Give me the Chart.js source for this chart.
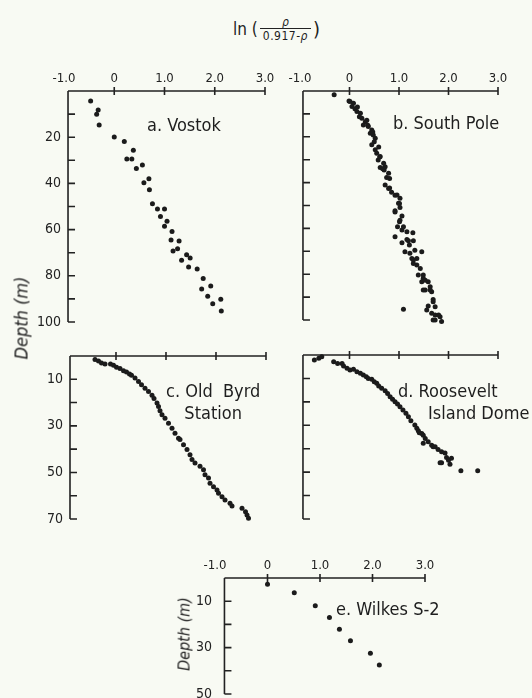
<!DOCTYPE html>
<html>
<head>
<meta charset="utf-8">
<script src="https://cdn.jsdelivr.net/npm/chart.js@4.4.1/dist/chart.umd.min.js"></script>
<style>
  body { margin: 0; background: #f8faf3; width: 532px; height: 698px; overflow: hidden; position: relative;
         font-family: "Liberation Sans Narrow", "DejaVu Sans Condensed", sans-serif; color: #1e1e1e; }
  canvas { position: absolute; }
  .lbl { position: absolute; font-size: 18px; line-height: 22px; white-space: nowrap; }
  .ylab { position: absolute; font-size: 18px; font-style: italic; white-space: nowrap;
          transform: translate(-50%, -50%) rotate(-90deg); }
  #ttl { position: absolute; left: 233px; top: 16px; display: flex; align-items: center; font-size: 17px; }
  .frac { display: inline-flex; flex-direction: column; align-items: center; margin: 0 2px; font-size: 12px; line-height: 12px; }
  .frac .den { border-top: 1.3px solid #222; padding: 1px 3px 0; letter-spacing: 0.5px; }
</style>
</head>
<body>
<div id="ttl"><span>ln (</span><span class="frac"><i>ρ</i><span class="den">0.917-<i>ρ</i></span></span><span style="font-size:20px">)</span></div>

<canvas id="cA"></canvas>
<canvas id="cB"></canvas>
<canvas id="cC"></canvas>
<canvas id="cD"></canvas>
<canvas id="cE"></canvas>

<div class="lbl" style="left:147px;top:114px">a. Vostok</div>
<div class="lbl" style="left:393px;top:112px">b. South Pole</div>
<div class="lbl" style="left:166px;top:380px;text-align:center">c. Old &nbsp;Byrd<br>Station</div>
<div class="lbl" style="left:398px;top:380px">d. Roosevelt</div>
<div class="lbl" style="left:428px;top:402px">Island Dome</div>
<div class="lbl" style="left:336px;top:598px">e. Wilkes S-2</div>
<div class="ylab" style="left:21px;top:318px">Depth (m)</div>
<div class="ylab" style="left:184px;top:634px;font-size:16px">Depth (m)</div>

<script>
const FONT = '"Liberation Sans Narrow", "DejaVu Sans Condensed", sans-serif';

// x axis: ln(rho / (0.917 - rho))
const xTickValues = [-1, 0, 1, 2, 3];

// depth tick labels per panel
const deepLabels = [20, 40, 60, 80, 100];
const shallowLabels = [10, 30, 50, 70];
const wilkesLabels = [10, 30, 50];

// a. Vostok
const vostokLn = [-0.47, -0.32, -0.35, -0.30, 0.00, 0.20, 0.38, 0.25, 0.35, 0.44, 0.56, 0.59, 0.69, 0.70, 0.76,
  0.86, 1.00, 0.92, 1.05, 1.00, 1.15, 1.13, 1.29, 1.26, 1.17, 1.44, 1.51, 1.34, 1.48, 1.65, 1.77, 1.74, 1.92,
  1.86, 1.96, 2.12, 2.13];
const vostokDepth = [4.3, 8.2, 10.1, 14.7, 19.9, 21.9, 25.7, 29.4, 29.4, 33.6, 32.0, 39.7, 38.0, 42.7, 48.8,
  51.1, 51.1, 54.3, 56.4, 58.6, 60.8, 64.5, 64.9, 68.3, 69.3, 70.9, 72.3, 73.3, 76.2, 77.1, 81.2, 85.7, 84.4,
  88.9, 92.1, 90.2, 95.2];

// b. South Pole
const poleLn = [-0.31, 0.01, 0.08, 0.05, 0.11, 0.15, 0.22, 0.20, 0.25, 0.32, 0.28, 0.38, 0.45, 0.42, 0.48,
  0.52, 0.45, 0.52, 0.55, 0.62, 0.58, 0.69, 0.62, 0.70, 0.79, 0.75, 0.72, 0.81, 0.85, 0.96, 1.02, 0.99, 1.02,
  0.92, 1.06, 1.01, 0.97, 1.06, 0.92, 1.28, 1.06, 1.16, 1.21, 1.12, 1.22, 1.32, 1.46, 1.29, 1.36, 1.43, 1.39,
  1.49, 1.46, 1.59, 1.63, 1.53, 1.66, 1.69, 1.59, 1.56, 1.09, 1.66, 1.73, 1.83, 1.73, 1.86,
  -0.01, 0.16, 0.35, 0.37, 0.47, 0.50, 0.59, 0.61, 0.72, 0.67, 0.81, 0.79, 0.92, 1.01, 0.92, 1.02, 1.09, 1.16,
  1.19, 1.29, 1.26, 1.36, 1.29, 1.49, 1.53, 1.49, 1.63, 1.69, 1.73, 1.80, 1.69];
const poleDepth = [1.6, 4.6, 5.4, 6.8, 7.8, 9.0, 9.7, 11.2, 11.9, 13.4, 14.8, 15.5, 17.0, 18.4, 19.2,
  20.6, 23.5, 25.7, 27.2, 28.6, 30.1, 31.5, 33.4, 34.5, 35.9, 37.8, 41.0, 42.4, 44.2, 45.4, 46.8, 49.0, 50.9,
  52.8, 54.6, 57.1, 59.3, 60.7, 63.7, 61.9, 66.3, 64.8, 67.3, 70.2, 70.9, 69.5, 70.2, 73.8, 76.0, 77.5, 80.4,
  81.8, 83.3, 83.3, 85.5, 86.9, 87.7, 91.0, 93.9, 95.6, 95.3, 97.1, 97.8, 98.6, 100.0, 100.7,
  4.4, 7.0, 12.8, 15.0, 17.9, 22.2, 24.4, 28.8, 33.1, 33.9, 38.2, 42.6, 45.5, 49.1, 52.3, 56.4, 59.3, 61.5,
  65.4, 65.4, 73.1, 73.1, 75.3, 80.4, 82.6, 86.9, 86.9, 92.0, 94.2, 97.8, 100.0];

// c. Old Byrd Station
const byrdLn = [-0.42, -0.35, -0.29, -0.22, -0.11, -0.05, 0.01, 0.08, 0.15, 0.21, 0.27, 0.31, 0.38, 0.45, 0.51,
  0.58, 0.65, 0.72, 0.76, 0.82, 0.85, 0.88, 0.92, 0.98, 1.05, 1.12, 1.18, 1.25, 1.28, 1.35, 1.42, 1.48, 1.52,
  1.58, 1.68, 1.75, 1.78, 1.85, 1.88, 1.95, 2.02, 2.05, 2.12, 2.18, 2.28, 2.32, 2.52, 2.59, 2.62, 2.65];
const byrdDepth = [1.5, 2.2, 3.0, 3.4, 3.4, 4.0, 4.8, 5.4, 6.3, 6.9, 7.7, 8.3, 9.5, 10.9, 12.3,
  13.8, 15.2, 16.9, 18.3, 20.2, 21.7, 23.5, 25.2, 26.7, 28.9, 31.0, 33.2, 35.3, 35.9, 38.1, 40.2, 42.4, 44.5,
  46.0, 47.4, 48.9, 51.0, 52.4, 54.6, 56.1, 57.5, 58.9, 60.4, 61.8, 63.2, 64.4, 65.4, 66.9, 68.3, 69.7];

// d. Roosevelt Island Dome
const rooseLn = [-0.71, -0.62, -0.56, -0.32, -0.24, -0.15, -0.12, -0.05, 0.01, 0.08, 0.15, 0.22, 0.28, 0.34,
  0.38, 0.45, 0.50, 0.55, 0.59, 0.65, 0.72, 0.77, 0.82, 0.87, 0.92, 0.97, 1.02, 1.08, 1.14, 1.19, 1.24, 1.32,
  1.36, 1.39, 1.46, 1.41, 1.49, 1.53, 1.49, 1.59, 1.66, 1.69, 1.73, 1.79, 1.86, 1.93, 1.96, 1.86, 2.03, 2.06,
  2.00, 1.83, 2.25, 2.59];
const rooseDepth = [2.1, 1.4, 0.7, 2.9, 3.6, 3.6, 4.7, 5.7, 6.4, 6.1, 7.1, 7.8, 8.5, 9.3,
  10.0, 10.4, 11.4, 12.1, 13.2, 14.2, 15.3, 16.4, 17.8, 18.9, 20.0, 20.9, 22.1, 23.5, 24.9, 26.4, 28.1, 29.9,
  31.3, 32.3, 33.5, 33.2, 34.2, 35.6, 37.7, 37.0, 38.5, 39.2, 39.2, 40.3, 41.3, 41.8, 43.7, 46.0, 46.6, 44.1,
  44.9, 46.0, 49.4, 49.4];

// e. Wilkes S-2
const wilkesLn = [0.00, 0.51, 0.91, 1.18, 1.37, 1.58, 1.96, 2.13];
const wilkesDepth = [2.7, 6.4, 12.0, 17.0, 22.1, 27.0, 32.4, 37.5];

const pts = (xs, ys) => xs.map((x, i) => ({ x: x, y: ys[i] }));

// axis lines drawn from the scales: top axis with crossing ticks, left axis with inward ticks
const axisMarks = {
  id: 'axisMarks',
  beforeDatasetsDraw(chart, args, opts) {
    const { ctx, chartArea: a, scales: { x, y } } = chart;
    const x0 = x.getPixelForValue(opts.xStart);
    const x3 = x.getPixelForValue(3);
    ctx.save();
    ctx.strokeStyle = '#222';
    ctx.lineWidth = 1.6;
    ctx.beginPath();
    ctx.moveTo(x0, a.top); ctx.lineTo(x3, a.top);
    ctx.moveTo(x0, a.top); ctx.lineTo(x0, a.bottom);
    xTickValues.filter(v => v >= 0).forEach(v => {
      const px = x.getPixelForValue(v);
      ctx.moveTo(px, a.top - 4); ctx.lineTo(px, a.top + 4);
    });
    y.ticks.forEach(t => {
      if (t.value === 0) return;
      const py = y.getPixelForValue(t.value);
      ctx.moveTo(x0, py); ctx.lineTo(x0 + 7, py);
    });
    ctx.stroke();
    ctx.restore();
  }
};

function makePanel(id, p) {
  const cv = document.getElementById(id);
  cv.width = p.wy + p.w + p.padR;
  cv.height = p.hx + p.h + p.padB;
  cv.style.left = (p.left - p.wy) + 'px';
  cv.style.top = (p.top - p.hx) + 'px';
  return new Chart(cv, {
    type: 'scatter',
    data: { datasets: [{ data: p.data, backgroundColor: '#1b1b1b', borderWidth: 0, pointRadius: 2.5, clip: false }] },
    options: {
      responsive: false,
      animation: false,
      devicePixelRatio: 1,
      layout: { padding: { left: 0, top: 0, right: p.padR, bottom: p.padB } },
      plugins: { legend: { display: false }, tooltip: { enabled: false }, axisMarks: { xStart: p.xStart } },
      scales: {
        x: {
          type: 'linear', position: 'top', min: -1, max: 3,
          afterBuildTicks: s => { s.ticks = xTickValues.map(v => ({ value: v })); },
          afterFit: s => { s.height = p.hx; s.paddingLeft = 0; s.paddingRight = 0; },
          grid: { display: false, drawTicks: false },
          border: { display: false },
          ticks: {
            display: p.showX, padding: 5, autoSkip: false, maxRotation: 0, color: '#222',
            font: { family: FONT, size: 13 },
            callback: v => v === 0 ? '0' : v.toFixed(1)
          }
        },
        y: {
          type: 'linear', reverse: true, min: 0, max: p.depthMax,
          afterFit: s => { s.width = p.wy; s.paddingTop = 0; s.paddingBottom = 0; },
          grid: { display: false, drawTicks: false },
          border: { display: false },
          ticks: {
            stepSize: 10, padding: 3, autoSkip: false, color: '#222',
            font: { family: FONT, size: 14 },
            callback: v => p.depthLabels.includes(v) ? String(v) : ''
          }
        }
      }
    },
    plugins: [axisMarks]
  });
}

makePanel('cA', { left: 64, top: 91, w: 201, h: 231, wy: 40, hx: 28, padR: 12, padB: 10, depthMax: 100,
  depthLabels: deepLabels, showX: true, xStart: -0.92, data: pts(vostokLn, vostokDepth) });
makePanel('cB', { left: 300, top: 91, w: 198, h: 229, wy: 16, hx: 28, padR: 14, padB: 10, depthMax: 100,
  depthLabels: [], showX: true, xStart: -0.94, data: pts(poleLn, poleDepth) });
makePanel('cC', { left: 66, top: 356, w: 200, h: 163, wy: 40, hx: 10, padR: 12, padB: 10, depthMax: 70,
  depthLabels: shallowLabels, showX: false, xStart: -0.92, data: pts(byrdLn, byrdDepth) });
makePanel('cD', { left: 300, top: 355, w: 198, h: 164, wy: 16, hx: 10, padR: 14, padB: 10, depthMax: 70,
  depthLabels: [], showX: false, xStart: -0.94, data: pts(rooseLn, rooseDepth) });
makePanel('cE', { left: 215, top: 578, w: 210, h: 116, wy: 40, hx: 28, padR: 12, padB: 4, depthMax: 50,
  depthLabels: wilkesLabels, showX: true, xStart: -0.82, data: pts(wilkesLn, wilkesDepth) });
</script>
</body>
</html>
